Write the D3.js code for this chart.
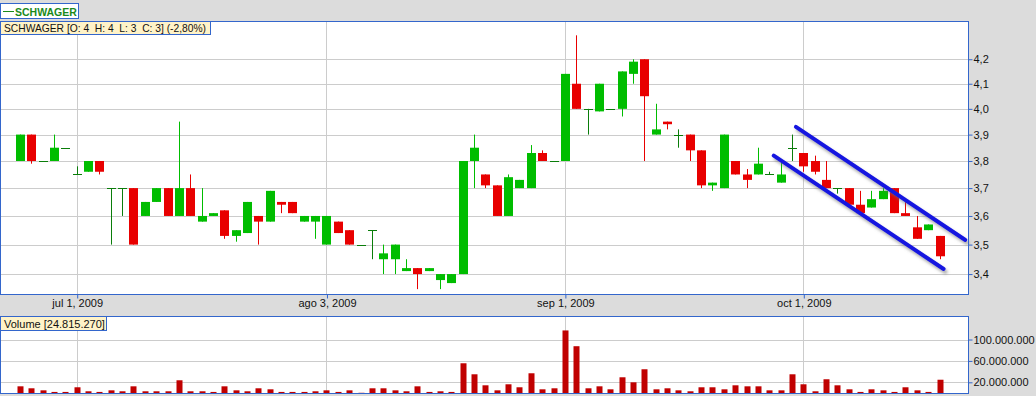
<!DOCTYPE html>
<html>
<head>
<meta charset="utf-8">
<script src="https://cdn.jsdelivr.net/npm/d3@7/dist/d3.min.js"></script>
<style>
  html, body { margin: 0; padding: 0; background: #dcdcdc; }
  svg { display: block; font-family: "Liberation Sans", Arial, sans-serif; }
</style>
</head>
<body>
<svg id="chart" width="1036" height="396"></svg>
<script>
// daily candles, index 0 = jun 24 2009 ... index 81 = oct 23 2009
var opens  = [3.80,3.90,3.80,3.80,3.85,3.75,3.76,3.80,3.70,3.70,3.70,3.60,3.65,3.70,3.60,3.70,3.58,3.60,3.62,3.53,
              3.54,3.60,3.58,3.65,3.65,3.58,3.58,3.50,3.58,3.55,3.50,3.55,3.45,3.45,3.41,3.42,3.41,3.38,3.37,3.40,
              3.80,3.75,3.71,3.60,3.70,3.70,3.83,3.80,3.80,4.10,4.00,3.99,4.00,4.00,4.14,4.20,3.90,3.95,3.90,3.90,
              3.84,3.71,3.70,3.80,3.75,3.75,3.75,3.72,3.85,3.83,3.80,3.73,3.70,3.70,3.64,3.63,3.66,3.70,3.61,3.56,
              3.55,3.53];
var highs  = [3.90,3.90,3.80,3.90,3.85,3.78,3.80,3.80,3.70,3.70,3.70,3.65,3.70,3.70,3.95,3.75,3.70,3.61,3.62,3.55,
              3.65,3.60,3.69,3.65,3.65,3.60,3.60,3.60,3.58,3.55,3.50,3.55,3.50,3.50,3.45,3.42,3.42,3.40,3.40,3.80,
              3.90,3.75,3.71,3.75,3.73,3.86,3.84,3.80,4.14,4.30,4.00,4.10,4.00,4.15,4.20,4.20,4.02,3.95,3.92,3.90,
              3.84,3.72,3.90,3.80,3.77,3.85,3.76,3.80,3.90,3.83,3.82,3.80,3.70,3.70,3.69,3.69,3.70,3.70,3.65,3.60,
              3.57,3.53];
var lows   = [3.80,3.79,3.80,3.80,3.85,3.75,3.76,3.75,3.50,3.60,3.50,3.60,3.65,3.60,3.60,3.60,3.58,3.60,3.52,3.51,
              3.54,3.50,3.58,3.61,3.61,3.58,3.52,3.50,3.54,3.50,3.50,3.45,3.40,3.40,3.41,3.35,3.41,3.35,3.37,3.40,
              3.70,3.70,3.60,3.60,3.70,3.70,3.80,3.80,3.80,4.00,3.90,3.99,4.00,3.97,4.10,3.80,3.90,3.92,3.85,3.80,
              3.70,3.69,3.70,3.75,3.70,3.75,3.75,3.72,3.80,3.76,3.75,3.70,3.68,3.64,3.61,3.63,3.66,3.61,3.60,3.52,
              3.55,3.45];
var closes = [3.90,3.80,3.80,3.85,3.85,3.75,3.80,3.76,3.70,3.70,3.50,3.65,3.70,3.60,3.70,3.60,3.60,3.61,3.53,3.55,
              3.65,3.58,3.69,3.64,3.61,3.60,3.60,3.60,3.54,3.50,3.50,3.55,3.47,3.50,3.42,3.40,3.42,3.40,3.40,3.80,
              3.85,3.71,3.60,3.74,3.73,3.83,3.80,3.80,4.14,4.00,4.00,4.10,4.00,4.15,4.19,4.05,3.92,3.94,3.90,3.84,
              3.71,3.72,3.90,3.75,3.73,3.79,3.75,3.75,3.85,3.78,3.76,3.70,3.70,3.64,3.61,3.66,3.69,3.61,3.60,3.52,
              3.57,3.46];
// volume in millions of shares
var volumes = [12.5,8.8,5,2,2,10.7,3.2,2,5,3.2,12.5,3.2,3.2,3.2,23.8,3.2,3.2,2,12.5,5,
               3.2,8.8,6.9,2,2,2,3.2,5,2,5,0.4,8.8,8.8,5,3.2,12.5,2,3.2,2,55.6,
               35,14.4,5,16.3,10.7,36.9,6.9,8.8,117,87.5,8.8,12.5,6.9,29.4,20,44.4,6.9,8.8,5,3.2,
               10.7,10.7,6.9,14.4,12.5,12.5,5,5,35,16.3,3.2,25.7,14.4,6.9,2,6.9,5,2,10.7,5,
               2,24.815];

var dateTickIdx    = [5, 27, 48, 69];
var dateTickLabels = ["jul 1, 2009", "ago 3, 2009", "sep 1, 2009", "oct 1, 2009"];
var priceTicks     = [3.4, 3.5, 3.6, 3.7, 3.8, 3.9, 4.0, 4.1, 4.2];
var volumeTicks    = [20, 60, 100];

// hand drawn channel lines: [candle index, price]
var channelUpper = [[68.35, 3.93], [83.27, 3.516]];
var channelLower = [[66.4, 3.82], [81.36, 3.417]];

var symbolName = "SCHWAGER";
var infoText   = "SCHWAGER [O: 4  H: 4  L: 3  C: 3] (-2,80%)";
var volumeText = "Volume [24.815.270]";

var candles = opens.map(function(o, i) {
  return {i: i, o: o, h: highs[i], l: lows[i], c: closes[i], v: volumes[i]};
});

var blue = "#3366cc", grid = "#cccccc",
    upCol = "#00bd00", downCol = "#e80000", flatCol = "#0a7d0a", volCol = "#c00000";

var svg = d3.select("#chart");

svg.append("rect").attr("width", 1036).attr("height", 396).attr("fill", "#dcdcdc");

var x = d3.scaleLinear().domain([0, 81]).range([19.93, 19.93 + 81 * 11.353]);
var y = d3.scaleLog().domain([3.334, 4.361]).range([294, 21]);
var yv = d3.scaleLinear().domain([0, 144]).range([393, 316]);

var defs = svg.append("defs");
var f = defs.append("filter").attr("id", "shadow")
  .attr("x", "-10%").attr("y", "-10%").attr("width", "130%").attr("height", "130%");
f.append("feDropShadow").attr("dx", 2).attr("dy", 3).attr("stdDeviation", 1.6)
  .attr("flood-color", "#666").attr("flood-opacity", 0.55);

//---- price panel
var pricePanel = svg.append("g");
pricePanel.append("rect").attr("x", 0.5).attr("y", 21.5).attr("width", 968).attr("height", 273)
  .attr("fill", "#fff");

pricePanel.selectAll("line.hgrid").data(priceTicks).enter().append("line")
  .attr("class", "hgrid")
  .attr("x1", 1).attr("x2", 968)
  .attr("y1", function(d) { return Math.round(y(d)) + 0.5; })
  .attr("y2", function(d) { return Math.round(y(d)) + 0.5; })
  .attr("stroke", grid);

pricePanel.selectAll("line.vgrid").data(dateTickIdx).enter().append("line")
  .attr("class", "vgrid")
  .attr("x1", function(d) { return Math.round(x(d)) + 0.5; })
  .attr("x2", function(d) { return Math.round(x(d)) + 0.5; })
  .attr("y1", 22).attr("y2", 294)
  .attr("stroke", grid);

function colorOf(d) {
  if (d.c > d.o) return upCol;
  if (d.c < d.o) return downCol;
  return flatCol;
}

var cg = pricePanel.selectAll("g.candle").data(candles).enter().append("g").attr("class", "candle");

cg.append("line")
  .attr("x1", function(d) { return Math.round(x(d.i)) + 0.5; })
  .attr("x2", function(d) { return Math.round(x(d.i)) + 0.5; })
  .attr("y1", function(d) { return y(d.h); })
  .attr("y2", function(d) { return y(d.l); })
  .attr("stroke", colorOf).attr("stroke-width", 1);

cg.append("rect")
  .attr("x", function(d) { return Math.round(x(d.i)) - 4; })
  .attr("width", 9)
  .attr("y", function(d) { return d.c === d.o ? Math.round(y(d.o)) : y(Math.max(d.o, d.c)); })
  .attr("height", function(d) {
    return d.c === d.o ? 1 : Math.max(1, y(Math.min(d.o, d.c)) - y(Math.max(d.o, d.c)));
  })
  .attr("fill", colorOf);

// channel lines
var lineGen = d3.line().x(function(d) { return x(d[0]); }).y(function(d) { return y(d[1]); });
pricePanel.selectAll("path.channel").data([channelUpper, channelLower]).enter().append("path")
  .attr("class", "channel")
  .attr("d", lineGen)
  .attr("fill", "none").attr("stroke", "#1515e0").attr("stroke-width", 4)
  .attr("stroke-linecap", "round")
  .attr("filter", "url(#shadow)");

pricePanel.append("rect").attr("x", 0.5).attr("y", 21.5).attr("width", 968).attr("height", 273)
  .attr("fill", "none").attr("stroke", blue);

// axes
var yAxis = d3.axisRight(y).tickValues(priceTicks).tickSize(4).tickPadding(1)
  .tickFormat(function(d) { return d.toFixed(1).replace(".", ","); });
var ya = svg.append("g").attr("transform", "translate(968.5,0)").call(yAxis);

var xAxis = d3.axisBottom(x).tickValues(dateTickIdx).tickSize(4).tickPadding(1)
  .tickFormat(function(d, i) { return dateTickLabels[i]; });
var xa = svg.append("g").attr("transform", "translate(0.5,294.5)").call(xAxis);

//---- volume panel
var volPanel = svg.append("g");
volPanel.append("rect").attr("x", 0.5).attr("y", 316.5).attr("width", 968).attr("height", 77)
  .attr("fill", "#fff");

volPanel.selectAll("line.hgrid").data(volumeTicks).enter().append("line")
  .attr("x1", 1).attr("x2", 968)
  .attr("y1", function(d) { return Math.round(yv(d)) + 0.5; })
  .attr("y2", function(d) { return Math.round(yv(d)) + 0.5; })
  .attr("stroke", grid);

volPanel.selectAll("line.vgrid").data(dateTickIdx).enter().append("line")
  .attr("x1", function(d) { return Math.round(x(d)) + 0.5; })
  .attr("x2", function(d) { return Math.round(x(d)) + 0.5; })
  .attr("y1", 317).attr("y2", 393)
  .attr("stroke", grid);

volPanel.selectAll("rect.vol").data(candles).enter().append("rect")
  .attr("class", "vol")
  .attr("x", function(d) { return Math.round(x(d.i)) - 2.5; })
  .attr("width", 6)
  .attr("y", function(d) { return yv(d.v); })
  .attr("height", function(d) { return yv(0) - yv(d.v); })
  .attr("fill", volCol);

volPanel.append("rect").attr("x", 0.5).attr("y", 316.5).attr("width", 968).attr("height", 77)
  .attr("fill", "none").attr("stroke", blue);

var ptFormat = d3.formatLocale({decimal: ",", thousands: ".", grouping: [3], currency: ["", ""]}).format(",");
var vAxis = d3.axisRight(yv).tickValues(volumeTicks).tickSize(4).tickPadding(1)
  .tickFormat(function(d) { return ptFormat(d * 1e6); });
var va = svg.append("g").attr("transform", "translate(968.5,0)").call(vAxis);

[ya, xa, va].forEach(function(a) {
  a.select(".domain").remove();
  a.selectAll(".tick line").attr("stroke", blue);
  a.selectAll(".tick text").attr("fill", "#111").style("font-size", "11px")
    .style("font-family", "'Liberation Sans', Arial, sans-serif");
});

//---- labels
var leg = svg.append("g");
leg.append("rect").attr("x", 0.5).attr("y", 3.5).attr("width", 78).attr("height", 15)
  .attr("fill", "#fff").attr("stroke", blue);
leg.append("line").attr("x1", 3).attr("x2", 14).attr("y1", 11.5).attr("y2", 11.5)
  .attr("stroke", "#1a8a1a");
leg.append("text").attr("x", 15).attr("y", 15.5).text(symbolName)
  .attr("fill", "#1a8a1a").style("font-weight", "bold").style("font-size", "10.5px");

var info = svg.append("g");
info.append("rect").attr("x", 0.5).attr("y", 21.5).attr("width", 210).attr("height", 13)
  .attr("fill", "#fff3c8").attr("stroke", blue);
info.append("text").attr("x", 4).attr("y", 32).attr("xml:space", "preserve")
  .attr("textLength", 202).attr("lengthAdjust", "spacingAndGlyphs")
  .style("white-space", "pre").style("font-size", "11px").attr("fill", "#111").text(infoText);

var vinfo = svg.append("g");
vinfo.append("rect").attr("x", 0.5).attr("y", 316.5).attr("width", 106).attr("height", 14)
  .attr("fill", "#fff3c8").attr("stroke", blue);
vinfo.append("text").attr("x", 4).attr("y", 327.5)
  .style("font-size", "11px").attr("fill", "#111").text(volumeText);
</script>
</body>
</html>
